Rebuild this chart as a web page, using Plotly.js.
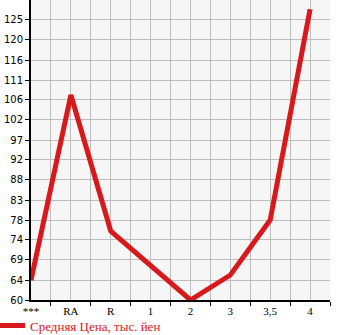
<!DOCTYPE html>
<html><head><meta charset="utf-8">
<script src="https://cdn.plot.ly/plotly-3.0.1.min.js"></script>
<style>html,body{margin:0;padding:0;background:#fff}</style>
</head><body><div id="chart" style="width:345px;height:335px"></div>
<script>
const categories = ["***", "RA", "R", "1", "2", "3", "3,5", "4"];
const prices = [64.6, 107.6, 76.0, 68.0, 60.0, 65.8, 78.6, 127.5];
const yTickVals = [60, 64.64, 69.29, 73.93, 78.57, 83.21, 87.86, 92.5, 97.14, 101.79, 106.43, 111.07, 115.71, 120.36, 125];
const yTickText = ["60", "64", "69", "74", "78", "83", "88", "92", "97", "102", "106", "111", "116", "120", "125"];
const seriesName = "Средняя Цена, тыс. йен";

const xIdx = categories.map((c, i) => i);
const halfIdx = categories.map((c, i) => i + 0.5);

const trace = {
  x: xIdx, y: prices, type: 'scatter', mode: 'lines', name: seriesName,
  line: {color: '#d7191c', width: 5}, cliponaxis: false, showlegend: true
};

const layout = {
  width: 345, height: 335,
  margin: {l: 31, r: 15, t: 0, b: 35, autoexpand: false},
  paper_bgcolor: '#ffffff', plot_bgcolor: '#f6f6f6',
  font: {family: 'DejaVu Sans, sans-serif', size: 10, color: '#000'},
  xaxis: {
    range: [0, 7.5], tickmode: 'array', tickvals: xIdx, ticktext: categories,
    ticks: '', showgrid: true, gridcolor: '#bdbdbd', gridwidth: 1, zeroline: false,
    showline: true, linecolor: '#000', linewidth: 2,
    tickfont: {family: 'Liberation Serif, serif', size: 11},
    minor: {tickmode: 'array', tickvals: halfIdx, ticks: 'outside', ticklen: 4, tickcolor: '#000', showgrid: true, gridcolor: '#bdbdbd', gridwidth: 1},
    fixedrange: true
  },
  yaxis: {
    range: [60, 129.64], tickmode: 'array', tickvals: yTickVals, ticktext: yTickText,
    ticks: 'outside', ticklen: 4, tickcolor: '#000', showgrid: true, gridcolor: '#bdbdbd', gridwidth: 1,
    zeroline: false, showline: true, linecolor: '#000', linewidth: 2,
    tickfont: {family: 'DejaVu Sans, sans-serif', size: 10},
    fixedrange: true
  },
  showlegend: true,
  legend: {orientation: 'h', x: -0.137, xanchor: 'left', y: -0.035, yanchor: 'top',
    font: {family: 'Liberation Serif, serif', size: 13, color: '#d7191c'}, bgcolor: 'rgba(0,0,0,0)'}
};
Plotly.newPlot('chart', [trace], layout, {displayModeBar: false, staticPlot: true});
</script></body></html>
